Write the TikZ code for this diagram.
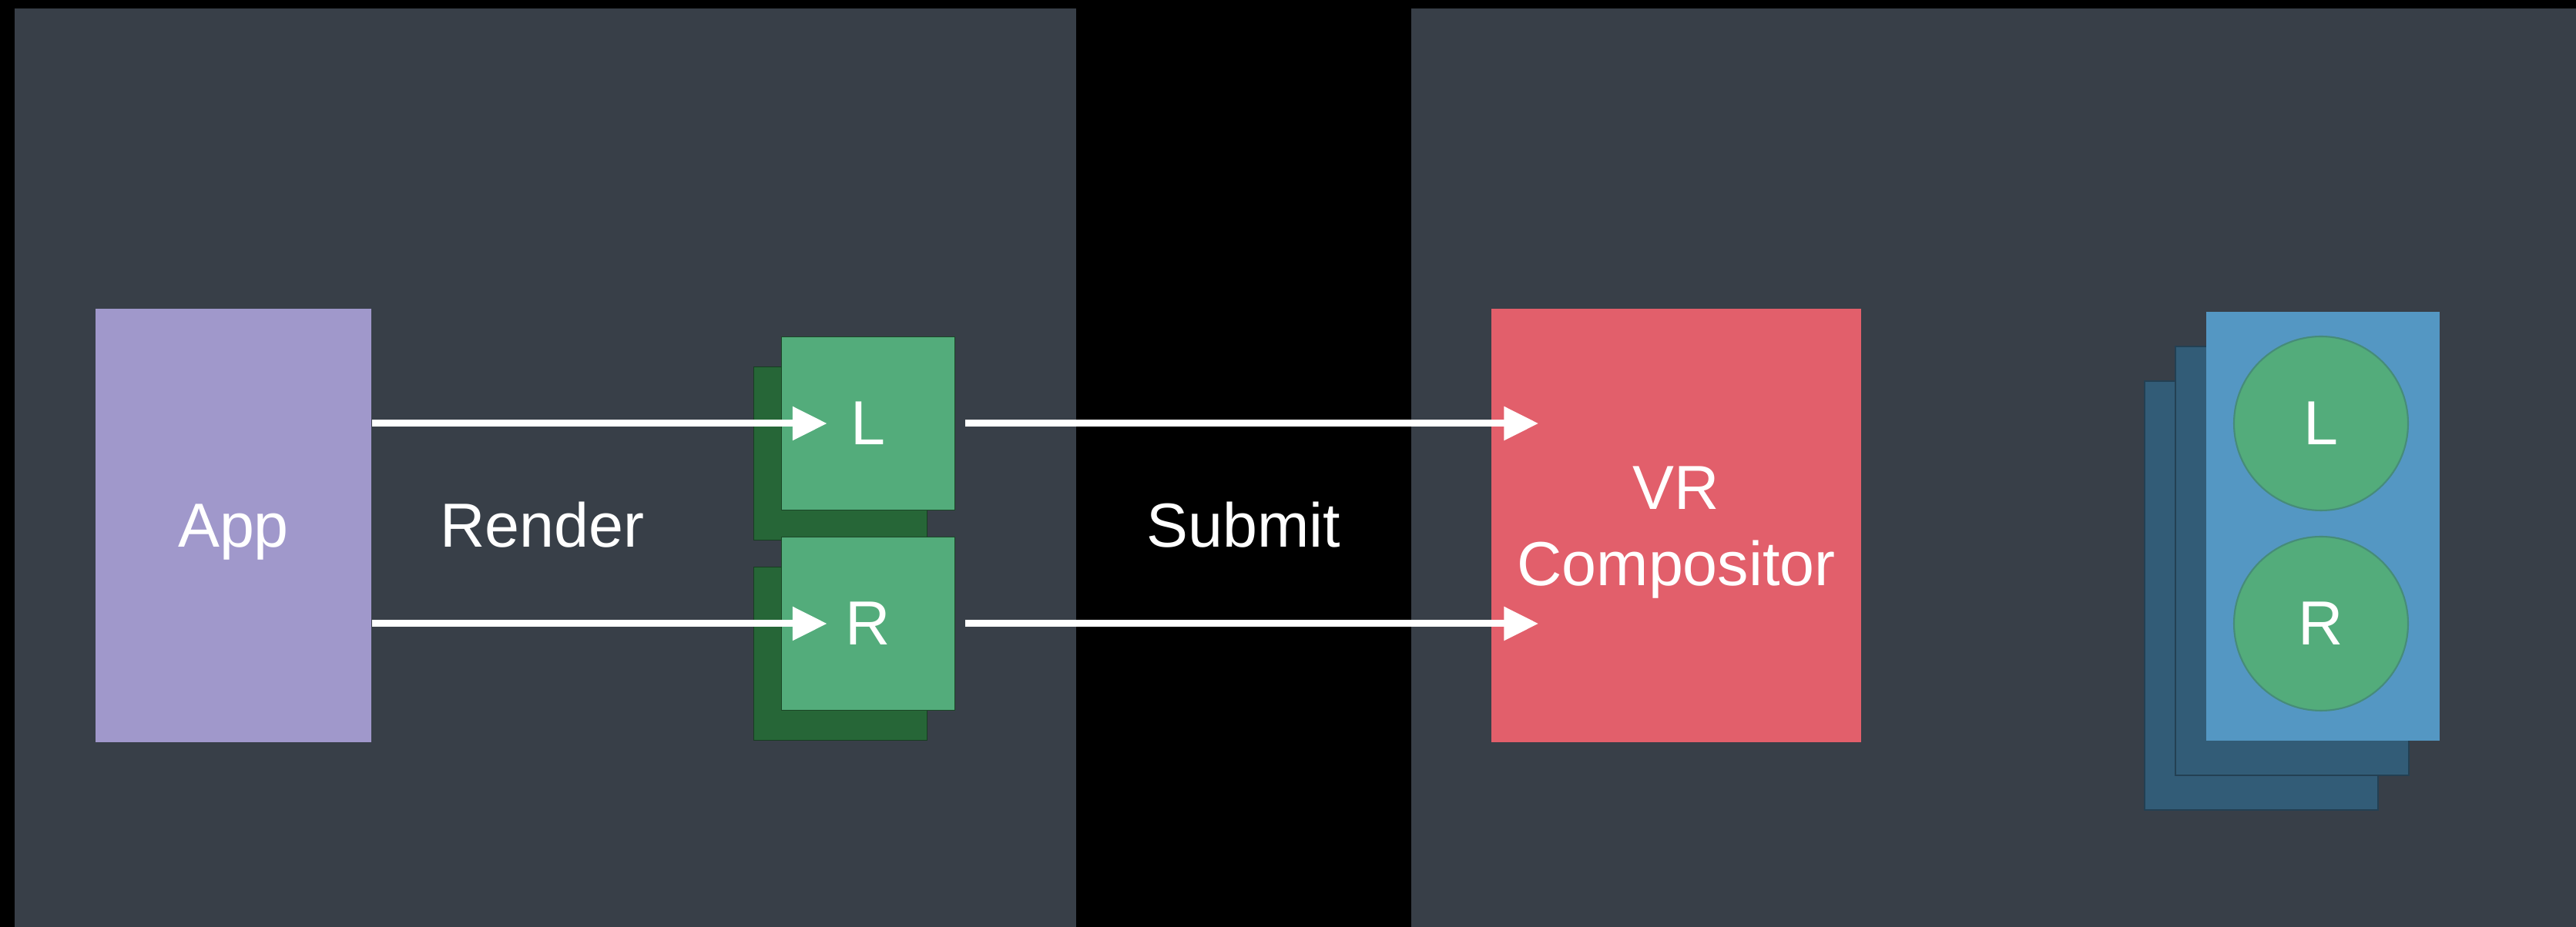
\documentclass[tikz,border=0pt]{standalone}
\usepackage{fontspec}
\setmainfont{Liberation Sans}
\usetikzlibrary{arrows.meta}

\definecolor{panelgray}{HTML}{383F48}
\definecolor{apppurple}{HTML}{A098CB}
\definecolor{eyegreen}{HTML}{53AC7B}
\definecolor{eyedark}{HTML}{266637}
\definecolor{vrred}{HTML}{E25F6B}
\definecolor{framebl}{HTML}{5497C3}
\definecolor{framedk}{HTML}{325C77}

\tikzset{
  lbl/.style={text=white, font=\fontsize{23}{28}\selectfont, align=center},
  bigbox/.style={minimum width=#1, minimum height=5.63cm, inner sep=0pt},
  eyefront/.style={lbl, draw=eyedark!70!black, fill=eyegreen, minimum size=2.25cm, inner sep=0pt},
  eyeback/.style={draw=eyedark!60!black, fill=eyedark, minimum size=2.25cm, inner sep=0pt},
  eyecirc/.style={lbl, circle, draw=eyegreen!60!framedk, line width=0.6pt, fill=eyegreen, minimum size=2.26cm, inner sep=0pt},
  frameback/.style={draw=framedk!70!black, fill=framedk, minimum width=3.03cm, minimum height=5.57cm, inner sep=0pt},
  arr/.style={white, line width=0.09cm, -{Triangle[length=0.45cm, width=0.42cm]}}
}

\begin{document}
\begin{tikzpicture}
\fill[black] (0,0) rectangle (33.44,12.04);
\useasboundingbox (0,0) rectangle (33.44,12.04);
\fill[panelgray] (0.19,0) rectangle (13.97,11.93);
\fill[panelgray] (18.32,0) rectangle (33.44,11.93);

% app side
\node[bigbox=3.58cm, fill=apppurple] (app) at (3.03,5.215) {};
\node[lbl] (applbl) at ([yshift=-0.09cm]app.center) {App};
\node[eyeback] (lback) at (10.91,6.15) {};
\node[eyefront] (lfront) at (11.27,6.54) {L};
\node[eyeback] (rback) at (10.91,3.55) {};
\node[eyefront] (rfront) at (11.27,3.94) {R};
\node[lbl] (render) at (7.04,5.22) {Render};
\node[lbl] (submit) at (16.14,5.22) {Submit};

% compositor side
\node[bigbox=4.80cm, fill=vrred] (vr) at (21.76,5.215) {};
\node[lbl] (vrlbl) at ([yshift=-0.09cm]vr.center) {VR\\Compositor};
\node[frameback] (fback1) at (29.355,4.305) {};
\node[frameback] (fback2) at (29.755,4.755) {};
\node[fill=framebl, minimum width=3.03cm, minimum height=5.57cm, inner sep=0pt] (frame) at (30.155,5.205) {};
\node[eyecirc] (lcirc) at (30.13,6.54) {L};
\node[eyecirc] (rcirc) at (30.13,3.94) {R};

\draw[arr] (app.east |- lfront) -- ([xshift=0.60cm]lfront.west);
\draw[arr] (app.east |- rfront) -- ([xshift=0.60cm]rfront.west);
\draw[arr] ([xshift=0.13cm]lfront.east) -- ([xshift=0.62cm]vr.west |- lfront);
\draw[arr] ([xshift=0.13cm]rfront.east) -- ([xshift=0.62cm]vr.west |- rfront);
\end{tikzpicture}
\end{document}
